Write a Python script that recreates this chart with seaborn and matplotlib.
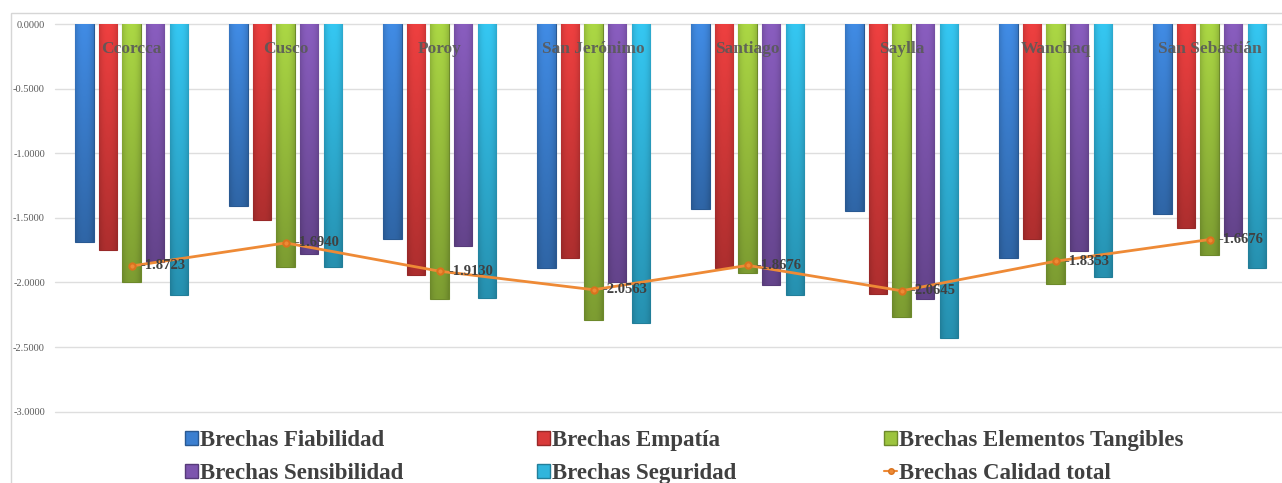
import numpy as np
import pandas as pd
import matplotlib
matplotlib.use("Agg")
import matplotlib.pyplot as plt
import matplotlib.colors as mcolors
from matplotlib.patches import Patch, Rectangle
from matplotlib.lines import Line2D
from matplotlib.ticker import FixedLocator, FormatStrFormatter
import seaborn as sns

# ---- data -------------------------------------------------------------
districts = ["Ccorcca", "Cusco", "Poroy", "San Jerónimo", "Santiago",
             "Saylla", "Wanchaq", "San Sebastián"]
fiabilidad = [-1.69, -1.41, -1.66, -1.89, -1.43, -1.45, -1.81, -1.47]
empatia = [-1.75, -1.52, -1.94, -1.81, -1.89, -2.09, -1.66, -1.58]
tangibles = [-2.00, -1.88, -2.13, -2.29, -1.93, -2.27, -2.01, -1.79]
sensibilidad = [-1.84, -1.78, -1.72, -2.00, -2.02, -2.13, -1.76, -1.64]
seguridad = [-2.10, -1.88, -2.12, -2.31, -2.10, -2.43, -1.96, -1.89]
calidad_total = [-1.8723, -1.6940, -1.9130, -2.0563, -1.8676, -2.0645,
                 -1.8353, -1.6676]

series_names = ["Brechas Fiabilidad", "Brechas Empatía",
                "Brechas Elementos Tangibles", "Brechas Sensibilidad",
                "Brechas Seguridad"]
line_name = "Brechas Calidad total"
y_ticks = [0.0, -0.5, -1.0, -1.5, -2.0, -2.5, -3.0]

series_values = [fiabilidad, empatia, tangibles, sensibilidad, seguridad]
colors = ["#3B7FD0", "#D93A3A", "#9CC43E", "#7D55AE", "#30B5DC"]
line_color = "#EE8A36"

df = pd.DataFrame({
    "Distrito": np.tile(districts, len(series_names)),
    "Serie": np.repeat(series_names, len(districts)),
    "Valor": np.concatenate(series_values),
})

# ---- figure -----------------------------------------------------------
sns.set_theme(style="white")
plt.rcParams["font.family"] = ["Liberation Serif", "DejaVu Serif"]

W, H = 1282, 483
fig = plt.figure(figsize=(W / 100, H / 100), dpi=100)
ax_left, ax_top, ax_bottom = 54.7, 24.0, 411.7
ax = fig.add_axes([ax_left / W, 1 - ax_bottom / H, 8 * 154 / W,
                   (ax_bottom - ax_top) / H])

# outer chart frame
fig.patches.append(Rectangle((11 / W, -0.05), 1.2, 1 - 13 / H + 0.05,
                             transform=fig.transFigure, fill=False,
                             edgecolor="#D6D6D6", linewidth=1.0))

sns.barplot(data=df, x="Distrito", y="Valor", hue="Serie",
            order=districts, hue_order=series_names, palette=colors,
            width=0.766, gap=0.22, legend=False, ax=ax, zorder=2)

ax.set_ylim(-3.0, 0.0)
ax.set_xlim(-0.5, len(districts) - 0.5)


def shade_bar(patch, base):
    """Overlay a soft vertical/horizontal gradient on a bar."""
    x0, y0 = patch.get_x(), patch.get_y()
    w, h = patch.get_width(), patch.get_height()
    rgb = np.array(mcolors.to_rgb(base))
    v = np.linspace(1.10, 0.80, 80)[:, None]
    u = 1 - 0.14 * np.abs(np.linspace(-1, 1, 20)) ** 2.5
    img = np.clip(rgb[None, None, :] * (v * u)[:, :, None], 0, 1)
    lo, hi = min(y0, y0 + h), max(y0, y0 + h)
    im = ax.imshow(img, extent=(x0, x0 + w, lo, hi), origin="upper",
                   aspect="auto", interpolation="bilinear", zorder=2.1)
    im.set_clip_path(patch)
    patch.set_edgecolor(tuple(rgb * 0.7))
    patch.set_linewidth(0.8)


n = len(districts)
for k, patch in enumerate(ax.patches[: n * len(series_names)]):
    shade_bar(patch, colors[k // n])

ax.set_ylim(-3.0, 0.0)
ax.set_xlim(-0.5, len(districts) - 0.5)

# total quality line
sns.pointplot(x=districts, y=calidad_total, order=districts, ax=ax,
              color=line_color, markers="o", errorbar=None,
              linewidth=2.0, markersize=4.5, zorder=4)
for line in ax.lines:
    line.set_zorder(4)
    line.set_markeredgecolor("#D9731E")

for i, v in enumerate(calidad_total):
    ax.annotate(f"{v:.4f}", (i, v), xytext=(6, 0), textcoords="offset points",
                ha="left", va="center", fontsize=10.5, fontweight="bold",
                color="#404040", zorder=5)

# district names inside the plot, at the top
for i, name in enumerate(districts):
    ax.text(i, -0.19, name, ha="center", va="center", fontsize=12.5,
            fontweight="bold", color="#595959", alpha=0.9, zorder=5)

# axes styling
ax.yaxis.set_major_locator(FixedLocator(y_ticks))
ax.yaxis.set_major_formatter(FormatStrFormatter("%.4f"))
ax.tick_params(axis="y", length=0, pad=7, labelsize=7.5, labelcolor="#595959")
ax.tick_params(axis="x", length=0, labelbottom=False)
ax.set_xlabel("")
ax.set_ylabel("")
for s in ax.spines.values():
    s.set_visible(False)
ax.grid(axis="x", visible=False)
ax.grid(axis="y", visible=False)
for yv in y_ticks:
    ax.axhline(yv, color="#DEDEDE", linewidth=1.0, zorder=0, clip_on=False)

# legend, three columns of two rows
handles = [Patch(facecolor=c, edgecolor=tuple(np.array(mcolors.to_rgb(c)) * 0.7))
           for c in colors]
handles.append(Line2D([0], [0], color=line_color, marker="o", markersize=4,
                      linewidth=1.5, markeredgecolor="#D9731E"))
labels = series_names + [line_name]
columns = [(0, 3), (1, 4), (2, 5)]
col_x = [185, 537, 884]
for (a, b), xp in zip(columns, col_x):
    lg = fig.legend([handles[a], handles[b]], [labels[a], labels[b]],
                    loc="upper left", bbox_to_anchor=(xp / W, 1 - 430 / H),
                    bbox_transform=fig.transFigure, frameon=False,
                    borderpad=0, borderaxespad=0, handlelength=0.57,
                    handleheight=0.57, handletextpad=0.1, labelspacing=0.52,
                    prop={"family": "Liberation Serif", "weight": "bold",
                          "size": 16.5})
    for t in lg.get_texts():
        t.set_color("#404040")

fig.savefig("out.png", dpi=100)
